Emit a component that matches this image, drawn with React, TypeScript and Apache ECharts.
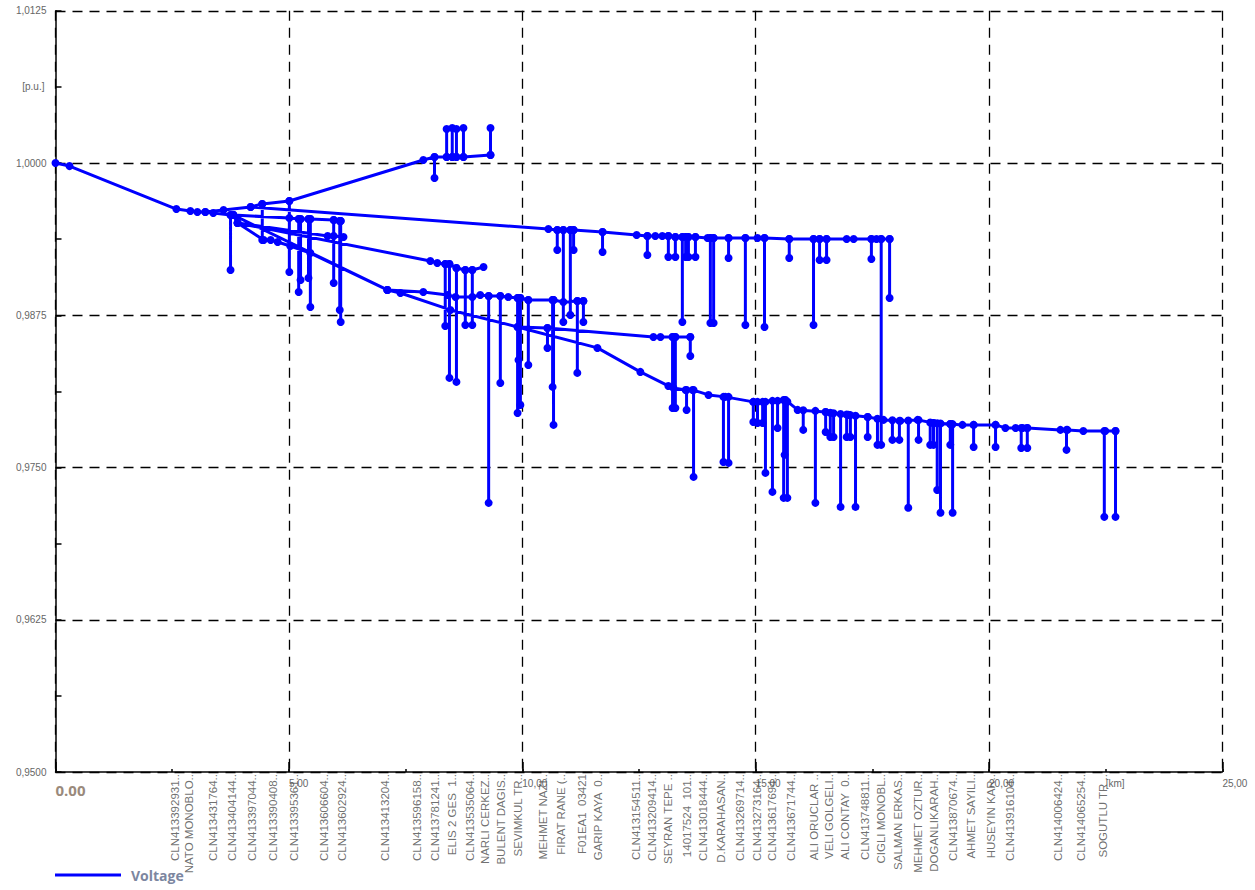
import React, { useEffect, useRef } from "react";
import * as echarts from "echarts";

type Pt = [number, number];

// ---- Feeder branches (distance km, voltage p.u.) ----
const trunk: Pt[] = [[0, 1.0], [0.3, 0.99975], [2.59, 0.99622], [2.89, 0.99606], [3.04, 0.99598], [3.21, 0.99598], [3.38, 0.9959], [3.75, 0.99573], [3.81, 0.99573]];
const upBranch: Pt[] = [[3.21, 0.99598], [3.6, 0.99614], [4.18, 0.99639], [4.43, 0.99664], [5.01, 0.99688], [7.88, 1.00025], [8.12, 1.00049], [8.38, 1.00049], [8.5, 1.00049], [8.59, 1.00049], [8.74, 1.00049], [9.32, 1.00066]];
const branchB: Pt[] = [[4.18, 0.99639], [10.56, 0.99458], [10.75, 0.9945], [10.88, 0.9945], [11.03, 0.9945], [11.1, 0.9945], [11.72, 0.99434], [12.45, 0.99409], [12.68, 0.99401], [12.85, 0.99401], [13.0, 0.99401], [13.13, 0.99401], [13.28, 0.99393], [13.43, 0.99393], [13.5, 0.99393], [13.56, 0.99393], [13.71, 0.99393], [13.97, 0.99384], [14.03, 0.99384], [14.1, 0.99384], [14.42, 0.99384], [14.78, 0.99384], [15.04, 0.99384], [15.19, 0.99384], [15.72, 0.99376], [16.24, 0.99376], [16.37, 0.99376], [16.52, 0.99376], [16.95, 0.99376], [17.1, 0.99376], [17.48, 0.99376], [17.59, 0.99376], [17.69, 0.99376], [17.87, 0.99376]];
const branchC: Pt[] = [[3.81, 0.99573], [5.01, 0.99549], [5.21, 0.9954], [5.25, 0.9954], [5.42, 0.9954], [5.46, 0.9954], [5.96, 0.99532], [6.09, 0.99524], [6.11, 0.99524]];
const branchD: Pt[] = [[3.9, 0.99508], [5.83, 0.99401], [5.96, 0.99401], [6.17, 0.99393]];
const branchDirect: Pt[] = [[3.81, 0.99573], [7.11, 0.98958]];
const branchE: Pt[] = [[3.9, 0.99508], [8.03, 0.99196], [8.18, 0.99179], [8.35, 0.99171], [8.44, 0.99171], [8.59, 0.99138], [8.78, 0.99122], [8.93, 0.99122], [9.17, 0.99146]];
const feeder: Pt[] = [[3.81, 0.99573], [3.9, 0.99508], [4.46, 0.99368], [4.61, 0.99368], [4.76, 0.99352], [5.03, 0.99319], [5.46, 0.99261], [7.11, 0.98958], [7.39, 0.98933], [8.46, 0.98794], [9.9, 0.98654], [11.61, 0.98482], [12.53, 0.98285], [13.13, 0.9817], [13.24, 0.98153], [13.5, 0.98137], [13.65, 0.98137], [13.99, 0.98096], [14.35, 0.9808], [14.95, 0.98039], [15.64, 0.98055], [15.9, 0.97973], [16.5, 0.97956], [16.99, 0.97932], [17.4, 0.97915], [17.74, 0.97891], [18.1, 0.97883], [18.47, 0.97891], [18.81, 0.97866], [19.17, 0.97858], [19.43, 0.9785], [19.67, 0.9785], [20.14, 0.9785], [20.35, 0.97825], [20.57, 0.97825], [20.72, 0.97825], [20.82, 0.97825], [21.53, 0.97809], [21.68, 0.97809], [22.02, 0.978], [22.49, 0.978], [22.71, 0.978]];
const branchZ3: Pt[] = [[7.11, 0.98958], [7.88, 0.98941], [8.4, 0.98917], [8.57, 0.989], [8.93, 0.989], [9.1, 0.98917], [9.28, 0.98908], [9.53, 0.98908], [9.7, 0.989], [9.9, 0.98892], [9.96, 0.98892], [10.13, 0.98876], [10.65, 0.98876], [10.67, 0.98876], [10.88, 0.98859], [11.18, 0.98867], [11.31, 0.98867]];
const branchZ5: Pt[] = [[9.9, 0.98654], [10.54, 0.98646], [12.81, 0.98572], [12.96, 0.98572], [13.22, 0.98572], [13.28, 0.98572], [13.6, 0.98572]];

// ---- Load spurs: [km, bus voltage, end voltage] ----
const spurs: [number, number, number][] = [
  [3.75, 0.99573, 0.99122], [4.43, 0.99664, 0.99368], [5.01, 0.99688, 0.99105], [5.21, 0.9954, 0.98941], [5.25, 0.9954, 0.9904], [5.42, 0.9954, 0.99056], [5.46, 0.9954, 0.98818], [5.96, 0.99532, 0.99015], [6.09, 0.99524, 0.98794], [6.11, 0.99524, 0.98695],
  [8.12, 1.00049, 0.99877], [8.38, 1.00049, 1.00279], [8.5, 1.00049, 1.00287], [8.59, 1.00049, 1.00279], [8.74, 1.00049, 1.00287], [9.32, 1.00066, 1.00287],
  [10.75, 0.9945, 0.99286], [10.88, 0.9945, 0.98695], [11.03, 0.9945, 0.98753], [11.1, 0.9945, 0.99286], [11.72, 0.99434, 0.9927], [12.68, 0.99401, 0.99245], [13.13, 0.99401, 0.99229], [13.28, 0.99393, 0.99229], [13.43, 0.99393, 0.98695], [13.5, 0.99393, 0.99229], [13.56, 0.99393, 0.99229], [13.71, 0.99393, 0.99229], [14.03, 0.99384, 0.98687], [14.1, 0.99384, 0.98687], [14.42, 0.99384, 0.9922], [14.78, 0.99384, 0.9867], [15.19, 0.99384, 0.98654], [15.72, 0.99376, 0.9922], [16.24, 0.99376, 0.9867], [16.37, 0.99376, 0.99204], [16.52, 0.99376, 0.99204], [17.48, 0.99376, 0.99212], [17.69, 0.99376, 0.97686], [17.87, 0.99376, 0.98892],
  [8.35, 0.99171, 0.98662], [8.44, 0.99171, 0.98236], [8.59, 0.99138, 0.98203], [8.78, 0.99122, 0.9867], [8.93, 0.99122, 0.9867],
  [9.28, 0.98908, 0.9721], [9.53, 0.98908, 0.98194], [9.9, 0.98892, 0.97948], [9.92, 0.98892, 0.98383], [9.96, 0.98892, 0.98014], [10.13, 0.98876, 0.98342], [10.65, 0.98876, 0.98162], [10.67, 0.98876, 0.9785], [11.18, 0.98867, 0.98277], [11.31, 0.98867, 0.98695],
  [10.54, 0.98646, 0.98482], [13.22, 0.98572, 0.97989], [13.28, 0.98572, 0.97989], [13.6, 0.98572, 0.98416],
  [13.52, 0.98137, 0.97973], [13.67, 0.98137, 0.97423], [14.31, 0.9808, 0.97546], [14.42, 0.9808, 0.97538], [14.95, 0.98039, 0.97874], [15.04, 0.98039, 0.97866], [15.15, 0.98039, 0.97866], [15.21, 0.98039, 0.97456], [15.36, 0.98047, 0.973], [15.47, 0.98047, 0.97825], [15.6, 0.98055, 0.97251], [15.62, 0.98055, 0.97604], [15.68, 0.9804, 0.97251],
  [16.02, 0.9797, 0.97809], [16.28, 0.97965, 0.9721], [16.5, 0.97956, 0.97792], [16.6, 0.9795, 0.97751], [16.67, 0.97945, 0.97751], [16.82, 0.9794, 0.97177], [16.95, 0.97935, 0.97751], [17.03, 0.9793, 0.97751], [17.14, 0.97925, 0.97177], [17.4, 0.97915, 0.97751], [17.61, 0.979, 0.97686], [17.93, 0.97888, 0.97727], [18.08, 0.97883, 0.97727], [18.27, 0.97886, 0.97169], [18.49, 0.9789, 0.97727], [18.74, 0.9787, 0.97686], [18.81, 0.97866, 0.97686], [18.89, 0.97864, 0.97316], [18.96, 0.97862, 0.97128], [19.17, 0.97858, 0.97686], [19.22, 0.97856, 0.97128], [19.67, 0.9785, 0.97669], [20.14, 0.9785, 0.97669], [20.69, 0.97825, 0.97661], [20.82, 0.97825, 0.97661], [21.66, 0.97809, 0.97645], [22.47, 0.978, 0.97095], [22.71, 0.978, 0.97095],
];

// ---- Bus names under the x axis ----
const busNames: string[] = ["CLN413392931..", "NATO MONOBLO..", "CLN413431764..", "CLN413404144..", "CLN413397044..", "CLN413390408..", "CLN413395361..", "CLN413606604..", "CLN413602924..", "CLN413413204..", "CLN413596158..", "CLN413781241..", "ELIS 2 GES  1..", "CLN413535064..", "NARLI CERKEZ..", "BULENT DAGIS..", "SEVIMKUL TR..", "MEHMET NAZI..", "FIRAT RANE (..", "F01EA1  03421", "GARIP KAYA  0..", "CLN413154511..", "CLN413209414..", "SEYRAN TEPE ..", "14017524  101..", "CLN413018444..", "D.KARAHASAN..", "CLN413269714..", "CLN413273164..", "CLN413617694..", "CLN413671744..", "ALI ORUCLAR ..", "VELI GOLGELI..", "ALI CONTAY  0..", "CLN413748811..", "CIGLI MONOBL..", "SALMAN ERKAS..", "MEHMET OZTUR..", "DOGANLIKARAH..", "CLN413870674..", "AHMET SAYILI..", "HUSEYIN KAR..", "CLN413916104..", "CLN414006424..", "CLN414065254..", "SOGUTLU TR .."];
const busKm: number[] = [2.57, 2.87, 3.38, 3.79, 4.22, 4.65, 5.1, 5.76, 6.13, 7.07, 7.75, 8.14, 8.5, 8.87, 9.21, 9.55, 9.9, 10.45, 10.82, 11.27, 11.63, 12.43, 12.77, 13.13, 13.52, 13.88, 14.25, 14.67, 15.02, 15.36, 15.75, 16.24, 16.58, 16.92, 17.35, 17.69, 18.04, 18.47, 18.83, 19.22, 19.62, 20.05, 20.46, 21.47, 21.98, 22.45];

const X_MIN = 0, X_MAX = 25, X_MAJOR = 5, X_MINOR = 2.5;
const Y_MIN = 0.95, Y_MAX = 1.0125, Y_MAJOR = 0.0125, Y_MINOR = 0.00625;

const BLUE = "#0000ff";
const AXIS_FONT = "Liberation Sans";

export default function App() {
  const ref = useRef<HTMLDivElement>(null);
  useEffect(() => {
    if (!ref.current) return;
    const chart = echarts.init(ref.current, undefined, { renderer: "svg" });

    const lineData: any[] = [];
    [trunk, upBranch, branchB, branchC, branchD, branchDirect, branchE, feeder, branchZ3, branchZ5].forEach((b) => {
      b.forEach((p) => lineData.push(p));
      lineData.push("-");
    });
    spurs.forEach(([x, a, b]) => {
      lineData.push([x, a], [x, b], "-");
    });

    const dash = { color: "#000", width: 1.3, type: [10, 7] as any };
    const grid = { left: 55.5, right: 32.6, top: 10.8, bottom: 118 };

    chart.setOption({
      animation: false,
      grid,
      legend: {
        data: ["Voltage"],
        left: 55,
        top: 868,
        padding: 0,
        icon: "rect",
        itemWidth: 66,
        itemHeight: 3,
        itemGap: 10,
        textStyle: { color: "#7c86a0", fontWeight: "bold", fontSize: 14, fontFamily: "Open Sans", padding: [0, 0, 0, 5] },
      },
      xAxis: [
        {
          type: "value", min: X_MIN, max: X_MAX, interval: X_MAJOR,
          axisLine: { show: true, onZero: false, lineStyle: { color: "#000", width: 1.5 } },
          axisTick: { show: true, inside: true, length: 10, lineStyle: { color: "#000", width: 1.5 } },
          splitLine: { show: true, lineStyle: dash },
          axisLabel: {
            show: true, align: "left", margin: 6, color: "#666", fontSize: 10, fontFamily: AXIS_FONT,
            formatter: (v: number) => (v === 0 ? "" : v.toFixed(2).replace(".", ",")),
          },
        },
        {
          type: "value", min: X_MIN, max: X_MAX, interval: X_MINOR, position: "bottom",
          axisLine: { show: false },
          axisTick: { show: true, inside: true, length: 3, lineStyle: { color: "#000", width: 1.5 } },
          splitLine: { show: false },
          axisLabel: {
            show: true, align: "left", margin: 6, color: "#666", fontSize: 10, fontFamily: AXIS_FONT,
            formatter: (v: number) => (v === 0 ? "{big|0.00}" : Math.abs(v - 22.5) < 1e-6 ? "[km]" : ""),
            rich: { big: { fontSize: 15, fontWeight: "bold", color: "#9a8a7c", fontFamily: "Open Sans", padding: [4, 0, 0, 0] } },
          },
        },
      ],
      yAxis: [
        {
          type: "value", min: Y_MIN, max: Y_MAX, interval: Y_MAJOR,
          axisLine: { show: true, onZero: false, lineStyle: { color: "#000", width: 1.5 } },
          axisTick: { show: false },
          splitLine: { show: true, lineStyle: dash },
          axisLabel: {
            show: true, margin: 9, color: "#666", fontSize: 10, fontFamily: AXIS_FONT,
            formatter: (v: number) => v.toFixed(4).replace(".", ","),
          },
        },
        {
          type: "value", min: Y_MIN, max: Y_MAX, interval: Y_MINOR, position: "left",
          axisLine: { show: false },
          axisTick: { show: true, inside: true, length: 6, lineStyle: { color: "#000", width: 1.5 } },
          splitLine: { show: false },
          axisLabel: {
            show: true, margin: 11, color: "#666", fontSize: 10, fontFamily: AXIS_FONT,
            formatter: (v: number) => (Math.abs(v - 1.00625) < 1e-7 ? "[p.u.]" : ""),
          },
        },
      ],
      series: [
        {
          name: "Voltage",
          type: "line",
          xAxisIndex: 0,
          yAxisIndex: 0,
          data: lineData,
          connectNulls: false,
          showSymbol: true,
          showAllSymbol: true,
          symbol: "circle",
          symbolSize: 8,
          color: BLUE,
          itemStyle: { color: BLUE },
          lineStyle: { color: BLUE, width: 3 },
          silent: true,
          z: 3,
        },
        {
          name: "buses",
          type: "scatter",
          xAxisIndex: 0,
          yAxisIndex: 0,
          data: busKm.map((x, i) => ({ name: busNames[i], value: [x, Y_MIN] })),
          symbolSize: 0,
          itemStyle: { color: "rgba(0,0,0,0)" },
          silent: true,
          clip: false,
          label: {
            show: true,
            position: "bottom",
            distance: 2,
            rotate: 90,
            align: "right",
            verticalAlign: "middle",
            formatter: "{b}",
            color: "#4a4a4a",
            fontSize: 11.5,
            fontFamily: AXIS_FONT,
          },
          z: 1,
        },
      ],
    });
    return () => chart.dispose();
  }, []);
  return <div ref={ref} style={{ position: "fixed", left: 0, top: 0, width: 1255, height: 890, background: "#fff" }} />;
}
